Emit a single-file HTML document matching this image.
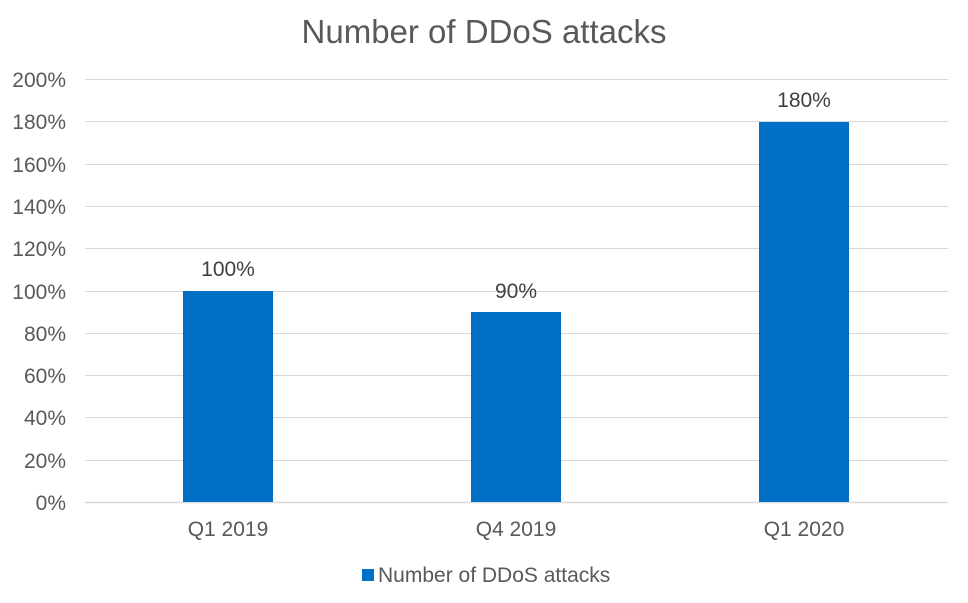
<!DOCTYPE html>
<html><head><meta charset="utf-8"><style>
html,body{margin:0;padding:0;background:#fff;}
svg{display:block;font-family:"Liberation Sans",Arial,sans-serif;}
</style></head><body>
<svg width="968" height="603" viewBox="0 0 968 603">
<rect width="968" height="603" fill="#fff"/>
<text x="484" y="43" text-anchor="middle" font-size="33" fill="#595959">Number of DDoS attacks</text>
<g stroke="#d9d9d9" stroke-width="1">
<line x1="85" x2="948" y1="79.5" y2="79.5"/>
<line x1="85" x2="948" y1="121.5" y2="121.5"/>
<line x1="85" x2="948" y1="164.5" y2="164.5"/>
<line x1="85" x2="948" y1="206.5" y2="206.5"/>
<line x1="85" x2="948" y1="248.5" y2="248.5"/>
<line x1="85" x2="948" y1="291.5" y2="291.5"/>
<line x1="85" x2="948" y1="333.5" y2="333.5"/>
<line x1="85" x2="948" y1="375.5" y2="375.5"/>
<line x1="85" x2="948" y1="417.5" y2="417.5"/>
<line x1="85" x2="948" y1="460.5" y2="460.5"/>
</g>
<line x1="85" x2="948" y1="502.5" y2="502.5" stroke="#d9d9d9" stroke-width="1.5"/>
<g font-size="21" fill="#595959" text-anchor="end">
<text x="66" y="87">200%</text>
<text x="66" y="129">180%</text>
<text x="66" y="172">160%</text>
<text x="66" y="214">140%</text>
<text x="66" y="256">120%</text>
<text x="66" y="299">100%</text>
<text x="66" y="341">80%</text>
<text x="66" y="383">60%</text>
<text x="66" y="425">40%</text>
<text x="66" y="468">20%</text>
<text x="66" y="510">0%</text>
</g>
<g fill="#0070c6">
<rect x="183" y="291" width="90" height="211"/>
<rect x="471" y="312" width="90" height="190"/>
<rect x="759" y="122" width="90" height="380"/>
</g>
<g font-size="21" fill="#404040" text-anchor="middle">
<text x="228" y="276">100%</text>
<text x="516" y="298">90%</text>
<text x="804" y="107">180%</text>
</g>
<g font-size="21" fill="#595959" text-anchor="middle">
<text x="228" y="536">Q1 2019</text>
<text x="516" y="536">Q4 2019</text>
<text x="804" y="536">Q1 2020</text>
</g>
<rect x="362" y="569" width="12" height="12" fill="#0070c6"/>
<text x="378" y="582" font-size="21" fill="#595959">Number of DDoS attacks</text>
</svg>
</body></html>
